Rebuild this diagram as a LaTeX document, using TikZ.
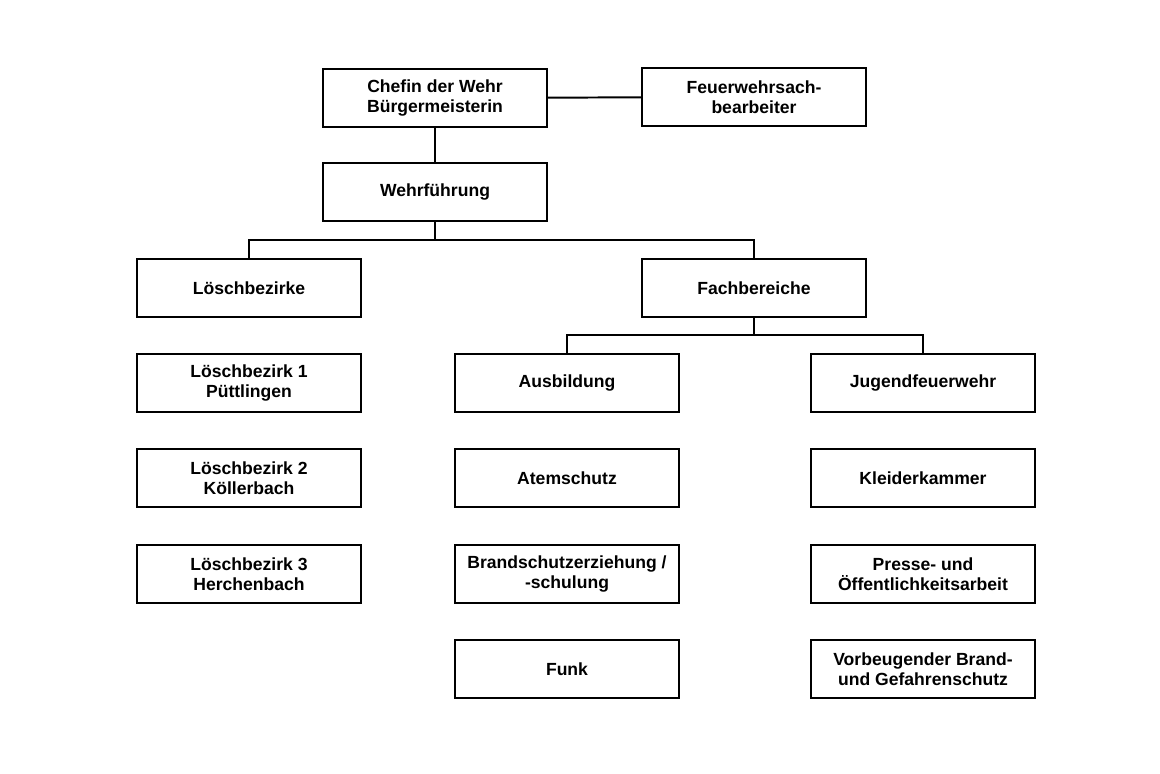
\documentclass[tikz,border=0pt]{standalone}
\usepackage{fontspec}
\setmainfont{Liberation Sans}
\usetikzlibrary{positioning,calc}
\tikzset{box/.style={draw=black, line width=1.4pt, minimum width=5.6cm, minimum height=1.45cm, align=center, font=\fontsize{12.5}{14.5}\selectfont\bfseries},
         link/.style={line width=1.4pt}}
\begin{document}
\begin{tikzpicture}[x=0.025cm,y=-0.025cm]
            \useasboundingbox (0,0) rectangle (1160,774);
            \node[box] (chef) at (435,98) {Chefin der Wehr\\Bürgermeisterin};
            \node[box] (sach) at (754,97) {Feuerwehrsach-\\bearbeiter};
            \node[box] (wehr) at (435,192) {Wehrführung};
            \node[box] (loesch) at (249,288) {Löschbezirke};
            \node[box] (fach) at (754,288) {Fachbereiche};

            \node[box] (lb1) at (249,383) {Löschbezirk 1\\Püttlingen};
            \node[box] (lb2) at (249,478) {Löschbezirk 2\\Köllerbach};
            \node[box] (lb3) at (249,574) {Löschbezirk 3\\Herchenbach};

            \node[box] (ausb) at (567,383) {Ausbildung};
            \node[box] (atem) at (567,478) {Atemschutz};
            \node[box] (brand) at (567,574) {Brandschutzerziehung /\\-schulung};
            \node[box] (funk) at (567,669) {Funk};

            \node[box] (jugend) at (923,383) {Jugendfeuerwehr};
            \node[box] (kleider) at (923,478) {Kleiderkammer};
            \node[box] (presse) at (923,574) {Presse- und\\Öffentlichkeitsarbeit};
            \node[box] (vorb) at (923,669) {Vorbeugender Brand-\\und Gefahrenschutz};

            % connectors
            \coordinate (split1) at (435,240);
            \coordinate (split2) at (754,335);
            \draw[link] (chef) -- (sach);
            \draw[link] (chef) -- (wehr);
            \draw[link] (wehr) -- (split1);
            \draw[link] (loesch.north) |- (split1) -| (fach.north);
            \draw[link] (fach) -- (split2);
            \draw[link] (ausb.north) |- (split2) -| (jugend.north);
\end{tikzpicture}
\end{document}
